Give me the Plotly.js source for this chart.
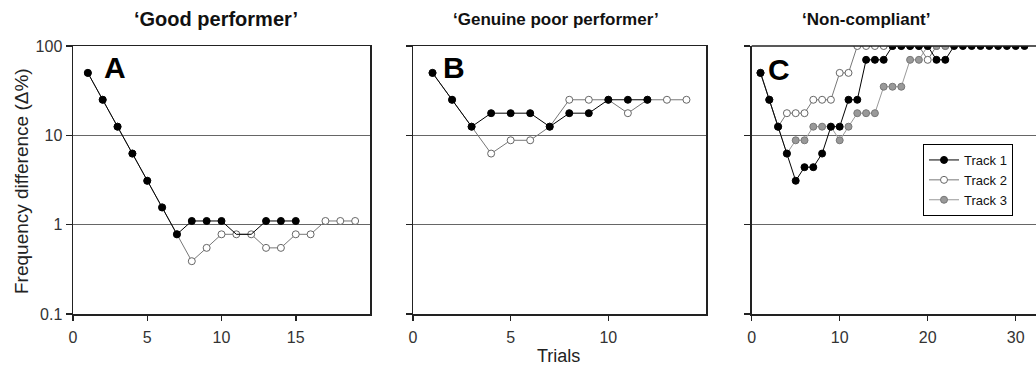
<!DOCTYPE html>
<html>
<head>
<meta charset="utf-8">
<script src="https://cdn.plot.ly/plotly-3.0.1.min.js"></script>
<style>html,body{margin:0;padding:0;background:#fff;}#chart{width:1036px;height:371px;}</style>
</head>
<body>
<div id="chart"></div>
<script>
// ---------- data ----------
const panelTitles = ['\u2018Good performer\u2019', '\u2018Genuine poor performer\u2019', '\u2018Non-compliant\u2019'];
const panelLetters = ['A', 'B', 'C'];
const trackNames = ['Track 1', 'Track 2', 'Track 3'];
const yTickVals = [0.1, 1, 10, 100];
const yTickText = ['0.1', '1', '10', '100'];
const xTicksA = [0, 5, 10, 15];
const xTicksB = [0, 5, 10];
const xTicksC = [0, 10, 20, 30];

// Panel A
const trialsA1 = [1,2,3,4,5,6,7,8,9,10,11,12,13,14,15];
const valuesA1 = [50,25,12.5,6.25,3.1,1.56,0.78,1.1,1.1,1.1,0.78,0.78,1.1,1.1,1.1];
const trialsA2 = [1,2,3,4,5,6,7,8,9,10,11,12,13,14,15,16,17,18,19];
const valuesA2 = [50,25,12.5,6.25,3.1,1.56,0.78,0.39,0.55,0.78,0.78,0.78,0.55,0.55,0.78,0.78,1.1,1.1,1.1];

// Panel B
const trialsB1 = [1,2,3,4,5,6,7,8,9,10,11,12];
const valuesB1 = [50,25,12.5,17.7,17.7,17.7,12.5,17.7,17.7,25,25,25];
const trialsB2 = [1,2,3,4,5,6,7,8,9,10,11,12,13,14];
const valuesB2 = [50,25,12.5,6.25,8.8,8.8,12.5,25,25,25,17.7,25,25,25];

// Panel C
const trialsC1 = [1,2,3,4,5,6,7,8,9,10,11,12,13,14,15,16,17,18,19,20,21,22,23,24,25,26,27,28,29,30,31];
const valuesC1 = [50,25,12.5,6.25,3.1,4.4,4.4,6.25,12.5,12.5,25,25,70,70,70,100,100,100,100,100,70,70,100,100,100,100,100,100,100,100,100];
const trialsC2 = [1,2,3,4,5,6,7,8,9,10,11,12,13,14,15,16,17,18,19,20,21,22];
const valuesC2 = [50,25,12.5,17.7,17.7,17.7,25,25,25,50,50,100,100,100,100,100,100,100,100,70,100,100];
const trialsC3 = [1,2,3,4,5,6,7,8,9,10,11,12,13,14,15,16,17,18,19,20,21,22];
const valuesC3 = [50,25,12.5,6.25,8.8,8.8,12.5,12.5,12.5,8.8,12.5,17.7,17.7,17.7,35,35,35,70,70,100,100,100];

// ---------- layout helpers ----------
const W = 1036, H = 371;
const px = x => x / W;
const py = y => 1 - y / H;
const FONT = '"Liberation Sans", Arial, sans-serif';
const AXC = '#222';

const styles = [
  {line: {color: '#000', width: 1}, marker: {color: '#000', size: 7, opacity: 1, line: {color: '#000', width: 1}}},
  {line: {color: '#777', width: 1}, marker: {color: '#ffffff', size: 7, opacity: 1, line: {color: '#666', width: 1}}},
  {line: {color: '#999', width: 1}, marker: {color: '#999', size: 7, opacity: 1, line: {color: '#777', width: 1}}}
];

function tr(x, y, k, xa, ya, show) {
  return {
    x: x, y: y, type: 'scatter', mode: 'lines+markers', name: trackNames[k],
    xaxis: xa, yaxis: ya, showlegend: show, legendrank: k + 1,
    line: Object.assign({}, styles[k].line),
    marker: JSON.parse(JSON.stringify(styles[k].marker)),
    hoverinfo: 'x+y+name'
  };
}

// Panel A: the filled track is drawn on top; where it later runs along the open track
// (after the two tracks have split) the open markers show, so those filled markers are hidden.
const splitA = valuesA2.findIndex((v, i) => v !== valuesA1[i]);
const sizesA1 = valuesA1.map((v, i) => (i >= splitA && v === valuesA2[i]) ? 0 : 7);
const trA1 = tr(trialsA1, valuesA1, 0, 'x', 'y', false);
trA1.marker.size = sizesA1;

const data = [
  tr(trialsA2, valuesA2, 1, 'x', 'y', false),
  trA1,
  tr(trialsB2, valuesB2, 1, 'x2', 'y2', false),
  tr(trialsB1, valuesB1, 0, 'x2', 'y2', false),
  tr(trialsC2, valuesC2, 1, 'x3', 'y3', true),
  tr(trialsC3, valuesC3, 2, 'x3', 'y3', true),
  tr(trialsC1, valuesC1, 0, 'x3', 'y3', true)
];

const yDom = [py(314), py(46)];
function xaxis(dom, range, ticks, mirror) {
  return {
    domain: dom, range: range, tickvals: ticks, ticktext: ticks.map(String),
    showline: true, linecolor: AXC, linewidth: 1.5, mirror: mirror,
    ticks: 'outside', ticklen: 5, tickwidth: 1.5, tickcolor: AXC, ticklabelstandoff: 3,
    showgrid: false, zeroline: false, fixedrange: true,
    tickfont: {family: FONT, size: 16, color: '#333'}
  };
}
function yaxis(anchor, labels, mirror) {
  return {
    domain: yDom, type: 'log', range: [-1, 2], anchor: anchor,
    tickvals: yTickVals, ticktext: yTickText, showticklabels: labels,
    showline: true, linecolor: AXC, linewidth: 1.5, mirror: mirror,
    ticks: 'outside', ticklen: 6, tickwidth: 1.5, tickcolor: AXC,
    showgrid: true, gridcolor: '#666', gridwidth: 1, zeroline: false, fixedrange: true,
    tickfont: {family: FONT, size: 16, color: '#333'}
  };
}

const annotations = [];
const titleX = [216, 556, 866];
const titleSize = [20, 17, 17];
panelTitles.forEach((t, i) => annotations.push({
  text: '<b>' + t + '</b>', x: px(titleX[i]), y: py(19), xref: 'paper', yref: 'paper',
  showarrow: false, xanchor: 'center', yanchor: 'middle',
  font: {family: FONT, size: titleSize[i], color: '#111'}
}));
const letterPos = [[115, 68], [454, 68], [779, 70]];
panelLetters.forEach((t, i) => annotations.push({
  text: '<b>' + t + '</b>', x: px(letterPos[i][0]), y: py(letterPos[i][1]), xref: 'paper', yref: 'paper',
  showarrow: false, xanchor: 'center', yanchor: 'middle',
  font: {family: FONT, size: 30, color: '#000'}
}));
annotations.push({
  text: 'Frequency difference (\u0394%)', x: px(22), y: py(181), xref: 'paper', yref: 'paper',
  showarrow: false, textangle: -90, xanchor: 'center', yanchor: 'middle',
  font: {family: FONT, size: 19, color: '#222'}
});
annotations.push({
  text: 'Trials', x: px(558), y: py(356), xref: 'paper', yref: 'paper',
  showarrow: false, xanchor: 'center', yanchor: 'middle',
  font: {family: FONT, size: 18, color: '#222'}
});

const layout = {
  width: W, height: H,
  margin: {l: 0, r: 0, t: 0, b: 0, pad: 0},
  paper_bgcolor: '#fff', plot_bgcolor: '#fff',
  showlegend: true,
  legend: {
    x: px(923), y: py(144), xanchor: 'left', yanchor: 'top',
    bgcolor: '#fff', bordercolor: '#000', borderwidth: 1,
    font: {family: FONT, size: 13, color: '#111'},
    itemwidth: 30, tracegroupgap: 0
  },
  xaxis: Object.assign(xaxis([px(73), px(370)], [0, 20], xTicksA, true), {anchor: 'y'}),
  yaxis: yaxis('x', true, true),
  xaxis2: Object.assign(xaxis([px(413), px(706)], [0, 15], xTicksB, true), {anchor: 'y2'}),
  yaxis2: yaxis('x2', false, true),
  xaxis3: Object.assign(xaxis([px(751.7), 1], [0, (1036 - 751.7) / 8.8], xTicksC, false), {anchor: 'y3'}),
  yaxis3: yaxis('x3', false, false),
  annotations: annotations,
  shapes: [{
    type: 'line', xref: 'paper', yref: 'paper', x0: px(751.7), x1: 1, y0: py(46), y1: py(46),
    line: {color: AXC, width: 1.5}
  }]
};

Plotly.newPlot('chart', data, layout, {displayModeBar: false, staticPlot: true});
</script>
</body>
</html>
